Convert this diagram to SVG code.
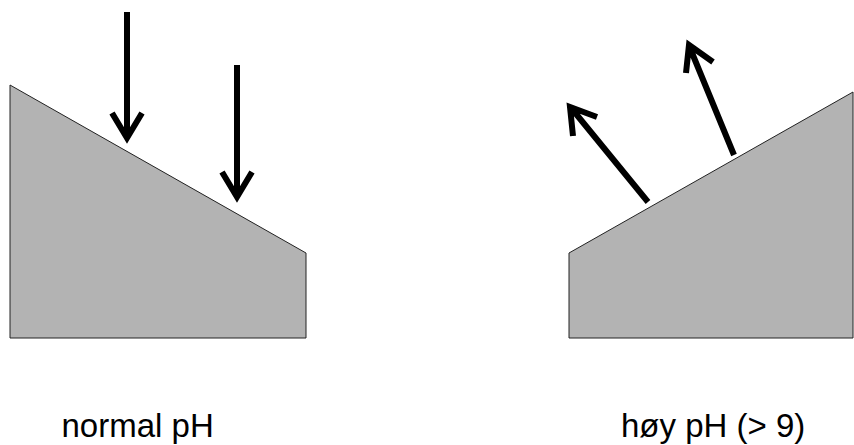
<svg xmlns="http://www.w3.org/2000/svg" width="854" height="445" viewBox="0 0 854 445">
<style>
.body{fill:#b3b3b3;stroke:#222;stroke-width:1}
.arr{fill:none;stroke:#000;stroke-width:6;stroke-linejoin:miter;stroke-linecap:butt}
.lbl{font-family:"Liberation Sans",Arial,sans-serif;font-size:33px;fill:#000}
</style>
<rect width="854" height="445" fill="#fff"/>
<g id="surface-normal">
<polygon class="body" points="10,85 306,253 306,338 10,338"/>
</g>
<g id="surface-high">
<polygon class="body" points="569,253 853,92 853,338 569,338"/>
</g>
<g id="connectors">
<path class="arr" d="M127,12 V137 M112,113 L127,138 L142,113"/>
<path class="arr" d="M237,65 V197 M222,172 L237,197 L252,172"/>
<path class="arr" d="M648,202 L572,109 M573,136 L570,107 L597,117"/>
<path class="arr" d="M734,155 L690,48 M686,73 L689,45 L713,62"/>
</g>
<g id="label-normal"><text class="lbl" x="61.5" y="437">normal pH</text></g>
<g id="label-high"><text class="lbl" x="621" y="437">høy pH (&gt; 9)</text></g>
</svg>
